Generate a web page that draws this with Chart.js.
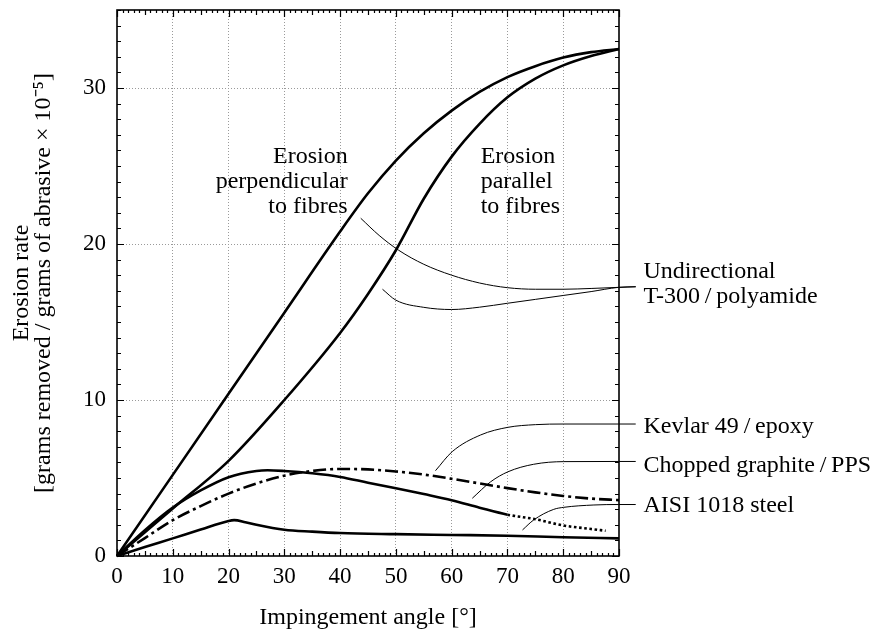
<!DOCTYPE html>
<html lang="en">
<head>
<meta charset="UTF-8">
<title>Erosion rate vs impingement angle</title>
<script src="https://cdn.jsdelivr.net/npm/chart.js@4.4.1/dist/chart.umd.min.js"></script>
<style>
  body { margin: 0; background: #fff; }
  #wrap { width: 877px; height: 633px; }
</style>
</head>
<body>
<div id="wrap"><canvas id="erosionChart" width="877" height="633"></canvas></div>
<script>
  // [impingement angle (deg), erosion rate]
  const perpendicular = [[0,0],[10,5.2],[20,10.4],[30,15.6],[40,20.8],[45,23.25],[50,25.35],[55,27.1],[60,28.55],[65,29.75],[70,30.7],[75,31.4],[80,31.95],[85,32.3],[90,32.5]];
  const parallel = [[0,0],[10,3.05],[20,6.1],[30,10.0],[40,14.3],[45,16.8],[50,19.6],[55,22.9],[60,25.6],[65,27.7],[70,29.4],[75,30.6],[80,31.45],[85,32.05],[90,32.5]];
  const kevlar = [[0,0],[5,1.15],[10,2.3],[15,3.2],[20,4.0],[25,4.65],[30,5.15],[35,5.45],[40,5.58],[45,5.55],[50,5.42],[55,5.22],[60,4.95],[65,4.65],[70,4.35],[75,4.08],[80,3.85],[85,3.68],[90,3.58]];
  const choppedGraphite = [[0,0],[5,1.65],[10,3.1],[15,4.2],[20,5.05],[25,5.45],[27,5.5],[30,5.45],[35,5.3],[40,5.07],[45,4.7],[50,4.34],[55,3.97],[60,3.58],[65,3.1],[70,2.65],[75,2.36],[80,1.96],[85,1.73],[87.6,1.62]];
  const aisiSteel = [[0,0],[5,0.57],[10,1.13],[15,1.7],[20,2.25],[21,2.3],[23,2.17],[25,2.0],[30,1.68],[35,1.56],[40,1.47],[50,1.4],[60,1.35],[70,1.3],[80,1.2],[90,1.13]];
  const dottedFrom = 70; // chopped graphite curve is dotted beyond this angle

  // leader lines from curves to labels
  const leaderUndirA = [[43.7,21.65],[47,20.55],[50.5,19.6],[55,18.7],[60,18.0],[65,17.5],[70,17.2],[75,17.1],[80,17.1],[85,17.15],[89.9,17.22],[93,17.26]];
  const leaderUndirB = [[47.6,17.1],[50,16.4],[55,15.94],[60,15.8],[65,15.95],[70,16.2],[75,16.45],[80,16.7],[85,16.95],[89.9,17.22],[93,17.26]];
  const leaderKevlar = [[57.1,5.47],[60.1,6.69],[65.2,7.76],[70.1,8.25],[75,8.42],[80.1,8.46],[89.9,8.46],[93,8.46]];
  const leaderChopped = [[63.7,3.7],[67,4.76],[70.1,5.4],[74.7,5.88],[80.1,6.05],[89.9,6.06],[93,6.06]];
  const leaderAisi = [[72.7,1.67],[74.7,2.31],[78.3,2.99],[80.1,3.12],[85.5,3.27],[89.9,3.3],[93,3.3]];

  const xTicks = [0, 10, 20, 30, 40, 50, 60, 70, 80, 90];
  const yTicks = [0, 10, 20, 30];

  const FONT = "'Liberation Serif', 'Times New Roman', serif";
  const FS = 24;
  const TICK_FS = 23;

  // text annotations, anchored in data coordinates
  const notes = [
    { lines: ['Erosion', 'perpendicular', 'to fibres'], x: 41.35, y: 25.17, align: 'right' },
    { lines: ['Erosion', 'parallel', 'to fibres'], x: 65.2, y: 25.17, align: 'left' },
    { lines: ['Undirectional', 'T-300\u2009/\u2009polyamide'], x: 94.4, y: 17.8, align: 'left' },
    { lines: ['Kevlar 49\u2009/\u2009epoxy'], x: 94.4, y: 7.87, align: 'left' },
    { lines: ['Chopped graphite\u2009/\u2009PPS'], x: 94.4, y: 5.4, align: 'left' },
    { lines: ['AISI 1018 steel'], x: 94.4, y: 2.84, align: 'left' }
  ];

  const curve = (data, extra) => Object.assign({
    data: data,
    borderColor: '#000',
    borderWidth: 2.6,
    pointRadius: 0,
    cubicInterpolationMode: 'monotone',
    clip: false
  }, extra || {});
  const leader = (data) => curve(data, { borderWidth: 1 });

  // frame with inward ticks on all four sides
  const frame = {
    id: 'frame',
    afterDatasetsDraw(chart) {
      const { ctx, chartArea: a, scales: { x, y } } = chart;
      ctx.save();
      ctx.strokeStyle = '#000';
      ctx.lineWidth = 1.2;
      ctx.beginPath();
      for (let v = 0; v <= 90; v++) {
        const len = v % 10 === 0 ? 7 : (v % 5 === 0 ? 5 : 3);
        const px = Math.round(x.getPixelForValue(v)) + 0.5;
        ctx.moveTo(px, a.bottom); ctx.lineTo(px, a.bottom - len);
        ctx.moveTo(px, a.top); ctx.lineTo(px, a.top + len);
      }
      for (let v = 0; v <= 35; v++) {
        const len = v % 10 === 0 ? 7 : 4;
        const py = Math.round(y.getPixelForValue(v)) + 0.5;
        ctx.moveTo(a.left, py); ctx.lineTo(a.left + len, py);
        ctx.moveTo(a.right, py); ctx.lineTo(a.right - len, py);
      }
      ctx.stroke();
      ctx.lineWidth = 1.6;
      ctx.strokeRect(a.left, a.top, a.right - a.left, a.bottom - a.top);
      ctx.restore();
    }
  };

  const noteText = {
    id: 'noteText',
    afterDraw(chart) {
      const { ctx, scales: { x, y } } = chart;
      ctx.save();
      ctx.fillStyle = '#000';
      ctx.font = FS + 'px ' + FONT;
      ctx.textBaseline = 'alphabetic';
      notes.forEach(n => {
        ctx.textAlign = n.align;
        const px = x.getPixelForValue(n.x);
        const py = y.getPixelForValue(n.y);
        n.lines.forEach((t, i) => ctx.fillText(t, px, py + i * 25));
      });
      ctx.restore();
    }
  };

  new Chart(document.getElementById('erosionChart'), {
    type: 'line',
    data: {
      datasets: [
        curve(perpendicular),
        curve(parallel),
        curve(kevlar, { borderDash: [13, 4, 3, 4] }),
        curve(choppedGraphite, {
          segment: { borderDash: c => c.p0.parsed.x >= dottedFrom ? [2.6, 2.6] : undefined }
        }),
        curve(aisiSteel),
        leader(leaderUndirA),
        leader(leaderUndirB),
        leader(leaderKevlar),
        leader(leaderChopped),
        leader(leaderAisi)
      ]
    },
    options: {
      responsive: false,
      animation: false,
      devicePixelRatio: 1,
      layout: { padding: { top: 10, right: 258, left: 0, bottom: 0 } },
      plugins: { legend: { display: false }, tooltip: { enabled: false } },
      scales: {
        x: {
          type: 'linear',
          min: 0, max: 90,
          afterFit: s => { s.height = 77; s.paddingLeft = 0; s.paddingRight = 0; },
          afterBuildTicks: s => { s.ticks = xTicks.map(v => ({ value: v })); },
          ticks: { color: '#000', padding: 7, font: { family: FONT, size: TICK_FS } },
          grid: {
            drawTicks: false,
            color: c => (c.tick && (c.tick.value === 0 || c.tick.value === 90)) ? 'rgba(0,0,0,0)' : '#9a9a9a'
          },
          border: { display: false, dash: [1, 2] },
          title: {
            display: true,
            text: 'Impingement angle [°]',
            color: '#000',
            font: { family: FONT, size: FS },
            padding: { top: 0, bottom: 1 }
          }
        },
        y: {
          min: 0, max: 35,
          afterFit: s => { s.width = 117; s.paddingTop = 0; s.paddingBottom = 0; },
          afterBuildTicks: s => { s.ticks = yTicks.map(v => ({ value: v })); },
          ticks: { color: '#000', padding: 11, font: { family: FONT, size: TICK_FS } },
          grid: {
            drawTicks: false,
            color: c => (c.tick && c.tick.value === 0) ? 'rgba(0,0,0,0)' : '#9a9a9a'
          },
          border: { display: false, dash: [1, 2] },
          title: {
            display: true,
            text: ['Erosion rate', '[grams removed / grams of abrasive × 10\u207B\u2075]'],
            color: '#000',
            font: { family: FONT, size: FS, lineHeight: 0.9 },
            padding: { top: 11, bottom: 0 }
          }
        }
      }
    },
    plugins: [frame, noteText]
  });
</script>
</body>
</html>
